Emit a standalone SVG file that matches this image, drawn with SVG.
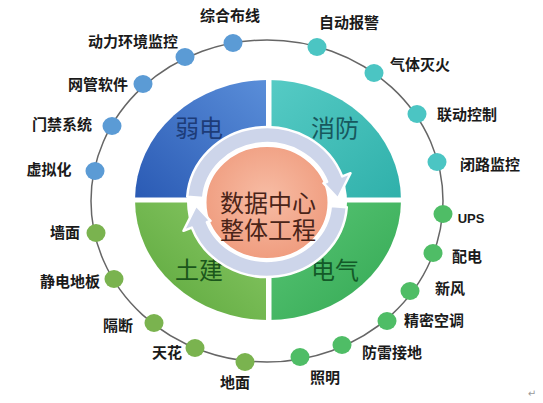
<svg xmlns="http://www.w3.org/2000/svg" width="543" height="403" viewBox="0 0 543 403">
<defs>
<linearGradient id="gBlue" x1="0" y1="1" x2="1" y2="0"><stop offset="0" stop-color="#2a5ab4"/><stop offset="1" stop-color="#5a8ed9"/></linearGradient>
<linearGradient id="gTeal" x1="0" y1="0" x2="1" y2="1"><stop offset="0" stop-color="#56cbc5"/><stop offset="1" stop-color="#2fb0aa"/></linearGradient>
<linearGradient id="gGreenL" x1="1" y1="0" x2="0" y2="1"><stop offset="0" stop-color="#8cca68"/><stop offset="1" stop-color="#5aa63a"/></linearGradient>
<linearGradient id="gGreenR" x1="0" y1="0" x2="1" y2="1"><stop offset="0" stop-color="#5ac676"/><stop offset="1" stop-color="#33a853"/></linearGradient>
<radialGradient id="gSalmon" cx="0.5" cy="0.45" r="0.6"><stop offset="0" stop-color="#f7bca4"/><stop offset="1" stop-color="#ef9a7c"/></radialGradient>
<style>
.lbl{font-family:"Noto Sans CJK SC","Noto Sans",sans-serif;font-size:15px;font-weight:bold;fill:#1a1a1a;text-anchor:middle}
.q{font-family:"Noto Sans CJK SC",sans-serif;font-size:24px;text-anchor:middle}
.c{font-family:"Noto Sans CJK SC",sans-serif;font-size:24px;fill:#4a2418;text-anchor:middle}
.db{fill:#5b9bd5}
.dt{fill:#4bc5c3}
.dg{fill:#7ab34f}
.de{fill:#4fbd66}
.band{fill:#cdd5ea;stroke:#ffffff;stroke-width:2.5;stroke-linejoin:round}
</style>
</defs>
<rect width="543" height="403" fill="#ffffff"/>
<g id="connectors">
<ellipse cx="267" cy="201" rx="176" ry="161" fill="none" stroke="#666666" stroke-width="1.5"/>
</g>
<g id="quadrants">
<path d="M268,200 L135,200 A133,120 0 0 1 268,80 Z" fill="url(#gBlue)"/>
<path d="M268,200 L268,80 A133,120 0 0 1 401,200 Z" fill="url(#gTeal)"/>
<path d="M268,200 L401,200 A133,120 0 0 1 268,320 Z" fill="url(#gGreenR)"/>
<path d="M268,200 L268,320 A133,120 0 0 1 135,200 Z" fill="url(#gGreenL)"/>
<rect x="266" y="76" width="5.5" height="248" fill="#ffffff"/>
<rect x="130" y="197.5" width="276" height="5" fill="#ffffff"/>
<text class="q" x="199" y="137" fill="#1d3c78">弱电</text>
<text class="q" x="335" y="137" fill="#17585e">消防</text>
<text class="q" x="199" y="279" fill="#1b561b">土建</text>
<text class="q" x="335" y="279" fill="#135a28">电气</text>
</g>
<g id="center">
<ellipse cx="267" cy="202" rx="80" ry="75" fill="#ffffff"/>
<ellipse cx="267" cy="202.5" rx="61.5" ry="56.5" fill="url(#gSalmon)" stroke="#ffffff" stroke-width="2"/>
<path class="band" d="M187.2,196.8 A80,75 0 0 1 342.2,176.4 L350.5,173.2 L337.9,198.5 L323.5,183.2 L327.1,181.8 A64,59 0 0 0 203.2,197.9 Z"/>
<path class="band" d="M346.8,207.2 A80,75 0 0 1 191.8,227.6 L183.5,230.8 L196.1,205.5 L210.5,220.8 L206.9,222.2 A64,59 0 0 0 330.8,206.1 Z"/>
<text class="c" x="268" y="211.5">数据中心<tspan x="268" dy="27">整体工程</tspan></text>
</g>
<g id="n1"><ellipse class="db" cx="233" cy="43" rx="9.5" ry="9"/><text class="lbl" x="230" y="21">综合布线</text></g>
<g id="n2"><ellipse class="db" cx="185" cy="57" rx="9.5" ry="9"/><text class="lbl" x="133" y="47">动力环境监控</text></g>
<g id="n3"><ellipse class="db" cx="143" cy="84" rx="9.5" ry="9"/><text class="lbl" x="98" y="90">网管软件</text></g>
<g id="n4"><ellipse class="db" cx="112" cy="126" rx="9.5" ry="9"/><text class="lbl" x="62" y="130">门禁系统</text></g>
<g id="n5"><ellipse class="db" cx="95" cy="171" rx="9.5" ry="9"/><text class="lbl" x="49" y="175">虚拟化</text></g>
<g id="n6"><ellipse class="dt" cx="317" cy="47" rx="9.5" ry="9"/><text class="lbl" x="349" y="28">自动报警</text></g>
<g id="n7"><ellipse class="dt" cx="374" cy="73" rx="9.5" ry="9"/><text class="lbl" x="420" y="70">气体灭火</text></g>
<g id="n8"><ellipse class="dt" cx="417" cy="114" rx="9.5" ry="9"/><text class="lbl" x="467" y="120">联动控制</text></g>
<g id="n9"><ellipse class="dt" cx="437" cy="162" rx="9.5" ry="9"/><text class="lbl" x="490" y="170">闭路监控</text></g>
<g id="n10"><ellipse class="de" cx="443" cy="214" rx="9.5" ry="9"/><text class="lbl" x="471" y="223" style="font-family:'Liberation Sans',sans-serif;font-size:13px">UPS</text></g>
<g id="n11"><ellipse class="de" cx="433" cy="253" rx="9.5" ry="9"/><text class="lbl" x="467" y="262">配电</text></g>
<g id="n12"><ellipse class="de" cx="410" cy="291" rx="9.5" ry="9"/><text class="lbl" x="450" y="294">新风</text></g>
<g id="n13"><ellipse class="de" cx="387" cy="321" rx="9.5" ry="9"/><text class="lbl" x="434" y="326">精密空调</text></g>
<g id="n14"><ellipse class="de" cx="342" cy="345" rx="9.5" ry="9"/><text class="lbl" x="392" y="358">防雷接地</text></g>
<g id="n15"><ellipse class="de" cx="300" cy="357" rx="9.5" ry="9"/><text class="lbl" x="325" y="383">照明</text></g>
<g id="n16"><ellipse class="dg" cx="96" cy="233" rx="9.5" ry="9"/><text class="lbl" x="65" y="238">墙面</text></g>
<g id="n17"><ellipse class="dg" cx="114" cy="279" rx="9.5" ry="9"/><text class="lbl" x="70" y="287">静电地板</text></g>
<g id="n18"><ellipse class="dg" cx="154" cy="323" rx="9.5" ry="9"/><text class="lbl" x="118" y="331">隔断</text></g>
<g id="n19"><ellipse class="dg" cx="195" cy="348" rx="9.5" ry="9"/><text class="lbl" x="167" y="358">天花</text></g>
<g id="n20"><ellipse class="dg" cx="245" cy="362" rx="9.5" ry="9"/><text class="lbl" x="235" y="388">地面</text></g>
<text x="532" y="397" font-family="DejaVu Sans, sans-serif" font-size="10" fill="#9a9a9a" text-anchor="middle">↵</text>
</svg>
